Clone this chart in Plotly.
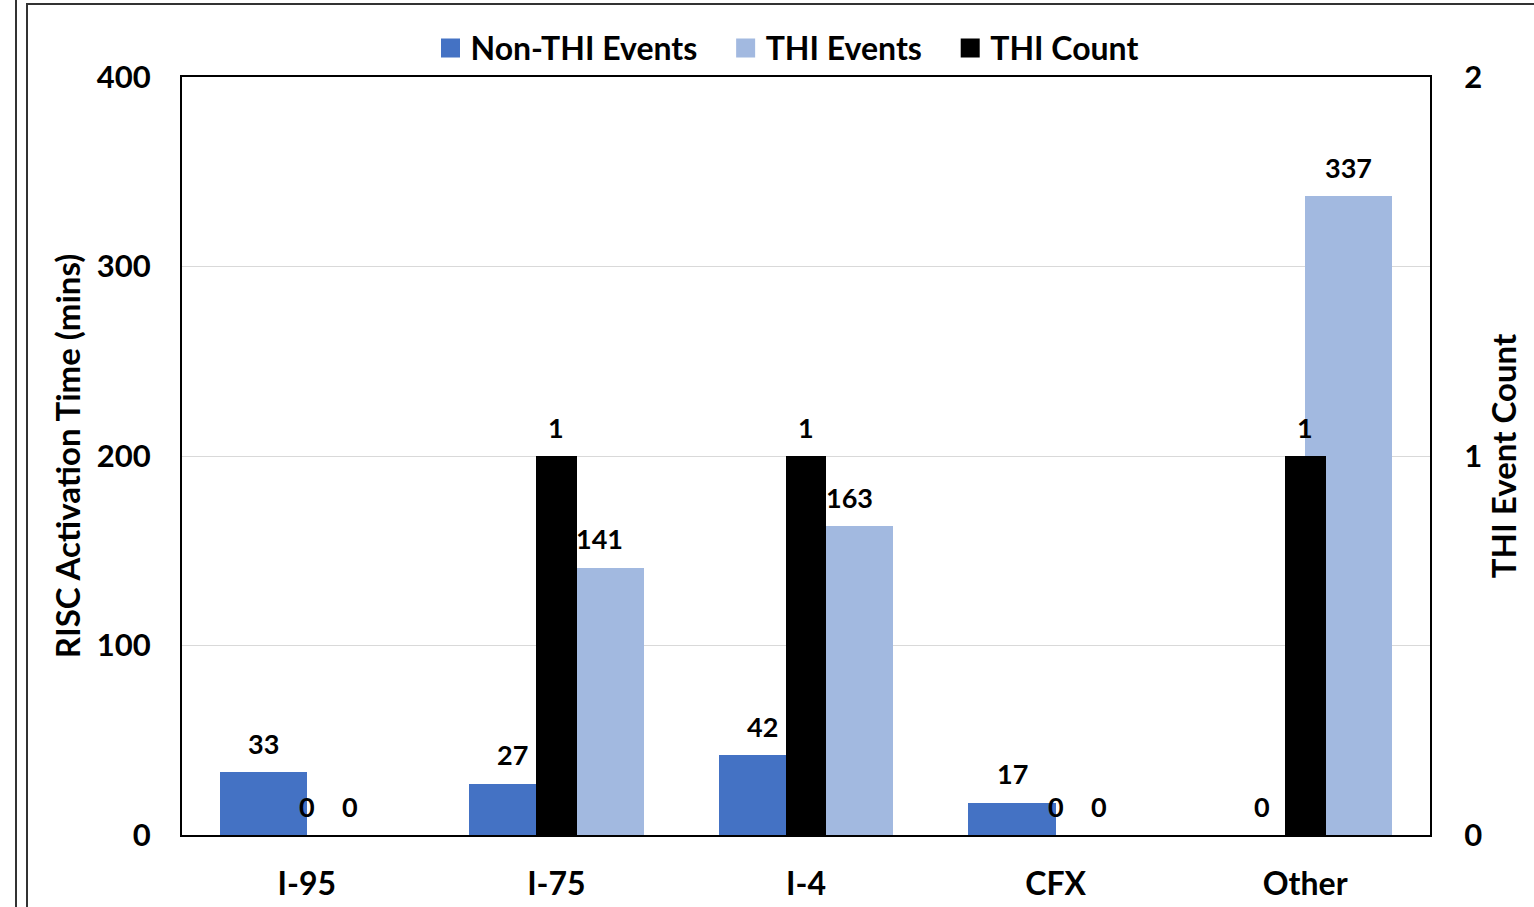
"""RISC activation time by corridor, with THI event counts on a second axis."""

import plotly.graph_objects as go

corridors = ["I-95", "I-75", "I-4", "CFX", "Other"]
non_thi_events = [33, 27, 42, 17, 0]
thi_events = [0, 141, 163, 0, 337]
thi_count = [0, 1, 1, 0, 1]

FONT = "Lato"
BLUE = "#4472C4"
LIGHT_BLUE = "#A2B9E0"

W, H = 1534, 907
M = dict(l=182, r=104, t=77, b=72)
plot_w = W - M["l"] - M["r"]
plot_h = H - M["t"] - M["b"]

# bar geometry, in category units (one category = 1.0)
wide = 0.349
narrow = 0.164

fig = go.Figure()
fig.add_trace(go.Bar(
    x=corridors, y=non_thi_events, name="Non-THI Events",
    marker=dict(color=BLUE, line=dict(width=0)),
    width=wide, offset=-wide, showlegend=False,
))
fig.add_trace(go.Bar(
    x=corridors, y=thi_events, name="THI Events",
    marker=dict(color=LIGHT_BLUE, line=dict(width=0)),
    width=wide, offset=0, showlegend=False,
))
fig.add_trace(go.Bar(
    x=corridors, y=thi_count, name="THI Count", yaxis="y2",
    marker=dict(color="black", line=dict(width=0)),
    width=narrow, offset=-narrow / 2, showlegend=False,
))

# legend entries with bigger square swatches (nbsp pads the item gaps)
pad = "\u00a0" * 3
for name, color in [("Non-THI Events", BLUE), ("THI Events", LIGHT_BLUE),
                    ("THI Count", "black")]:
    fig.add_trace(go.Scatter(
        x=[None], y=[None], mode="markers", name=name + pad,
        marker=dict(symbol="square", size=16, color=color,
                    line=dict(color=color, width=3)),
    ))

# data labels, centred over each bar
cat_px = plot_w / len(corridors)
label_sets = [
    (non_thi_events, "y", -wide / 2),
    (thi_events, "y", wide / 2),
    (thi_count, "y2", 0),
]
for values, yref, shift in label_sets:
    for cat, v in zip(corridors, values):
        fig.add_annotation(
            x=cat, y=v, xref="x", yref=yref, text=str(v),
            showarrow=False, xshift=shift * cat_px, yshift=29,
            yanchor="middle",
            font=dict(family=FONT, size=27, color="black", weight="bold"),
        )

# outer chart frame
for x0, y0, x1, y1 in [(27, 4, 1545, 920), (16, -10, 16, 920)]:
    fig.add_shape(
        type="rect" if x0 != x1 else "line",
        xref="paper", yref="paper",
        x0=(x0 - M["l"]) / plot_w, x1=(x1 - M["l"]) / plot_w,
        y0=(H - M["b"] - y0) / plot_h, y1=(H - M["b"] - y1) / plot_h,
        line=dict(color="#333333", width=2),
    )

fig.update_layout(
    width=W, height=H, margin=M,
    paper_bgcolor="white", plot_bgcolor="white",
    barmode="overlay", bargap=0,
    font=dict(family=FONT, size=30, color="black", weight="bold"),
    legend=dict(
        orientation="h", x=0.5 - 7 / plot_w, xanchor="center",
        y=1.038, yanchor="middle",
        font=dict(size=32), traceorder="normal", itemwidth=30,
        bgcolor="rgba(0,0,0,0)",
    ),
    xaxis=dict(
        showline=True, linecolor="black", linewidth=2, mirror=True,
        ticks="", ticklabelstandoff=20, tickfont=dict(size=32),
        automargin=False,
    ),
    yaxis=dict(
        range=[0, 400], dtick=100, showgrid=True, gridcolor="#D9D9D9",
        gridwidth=1.2, showline=True, linecolor="black", linewidth=2,
        ticks="", ticklabelstandoff=23, tickfont=dict(size=31),
        title=dict(text="RISC Activation Time (mins)", font=dict(size=33),
                   standoff=6),
        zeroline=False, automargin=False,
    ),
    yaxis2=dict(
        range=[0, 2], dtick=1, overlaying="y", side="right",
        showgrid=False, showline=True, linecolor="black", linewidth=2,
        ticks="", ticklabelstandoff=26, tickfont=dict(size=31),
        title=dict(text="THI Event Count", font=dict(size=33), standoff=12),
        zeroline=False, automargin=False,
    ),
)

fig.write_html(
    "out.html",
    config={"displayModeBar": False},
    post_script="document.body.style.margin = '0';",
)
